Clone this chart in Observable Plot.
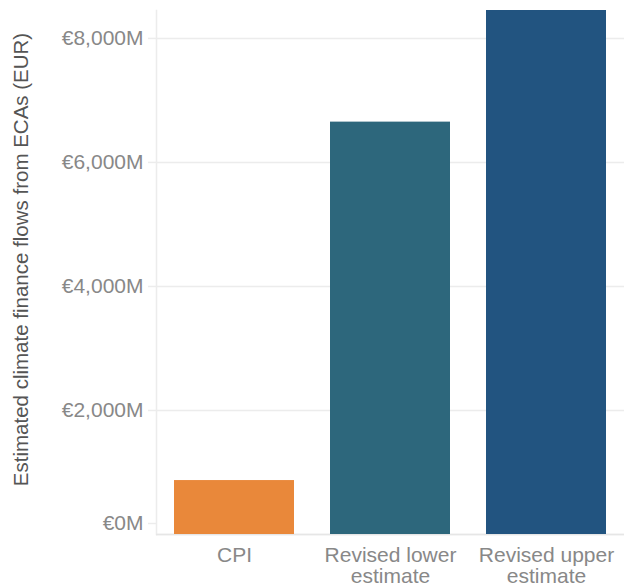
<!DOCTYPE html>
<html>
<head>
<meta charset="utf-8">
<script src="https://cdn.jsdelivr.net/npm/d3@7"></script>
<script src="https://cdn.jsdelivr.net/npm/@observablehq/plot@0.6"></script>
<style>
  html, body { margin: 0; padding: 0; background: #fff; }
</style>
</head>
<body>
<div id="chart"></div>
<script>
const categories = ["CPI", "Revised lower estimate", "Revised upper estimate"];
const xLabels = ["CPI", "Revised lower\nestimate", "Revised upper\nestimate"];
const values = [870, 6650, 8450];
const colors = ["#E9883A", "#2D677C", "#225480"];
const yTicks = [0, 2000, 4000, 6000, 8000];
const yTitle = "Estimated climate finance flows from ECAs (EUR)";

const data = categories.map((c, i) => ({category: c, value: values[i]}));
const fmt = d3.format(",");
const yFmt = d => "€" + fmt(d) + "M";

const chart = Plot.plot({
  width: 629,
  height: 587,
  marginLeft: 156,
  marginRight: 5,
  marginTop: 10,
  marginBottom: 53,
  style: {fontFamily: "'Liberation Sans', Arial, sans-serif", fontSize: "21px", background: "#fff"},
  x: {domain: categories, paddingInner: 0.23, paddingOuter: 0.115, label: null},
  y: {domain: [0, 8450], label: null},
  color: {domain: categories, range: colors},
  marks: [
    Plot.gridY(yTicks, {stroke: "#ececec", strokeOpacity: 1, strokeWidth: 1.5}),
    Plot.frame({anchor: "left", stroke: "#ececec", strokeWidth: 1.5}),
    Plot.ruleY([0], {stroke: "#e6e6e6", strokeWidth: 1.5}),
    Plot.barY(data, {x: "category", y: "value", fill: "category"}),
    Plot.axisY(yTicks.filter(d => d !== 0), {
      tickSize: 8, stroke: "#ececec", strokeWidth: 1.5, tickPadding: 5,
      fill: "#888", tickFormat: yFmt, label: null
    }),
    Plot.axisY([0], {
      tickSize: 8, stroke: "#ececec", strokeWidth: 1.5, tickPadding: 5,
      fill: "#888", tickFormat: yFmt, label: null, dy: -11
    }),
    Plot.text([yTitle], {
      frameAnchor: "left", rotate: -90, dx: -135, dy: -13,
      fontSize: 20.5, fill: "#555", lineAnchor: "middle", textAnchor: "middle"
    }),
    Plot.axisX({
      tickSize: 0, tickPadding: 13, fill: "#888", label: null,
      tickFormat: d => xLabels[categories.indexOf(d)],
      lineHeight: 1.0
    })
  ]
});
document.getElementById("chart").append(chart);
</script>
</body>
</html>
